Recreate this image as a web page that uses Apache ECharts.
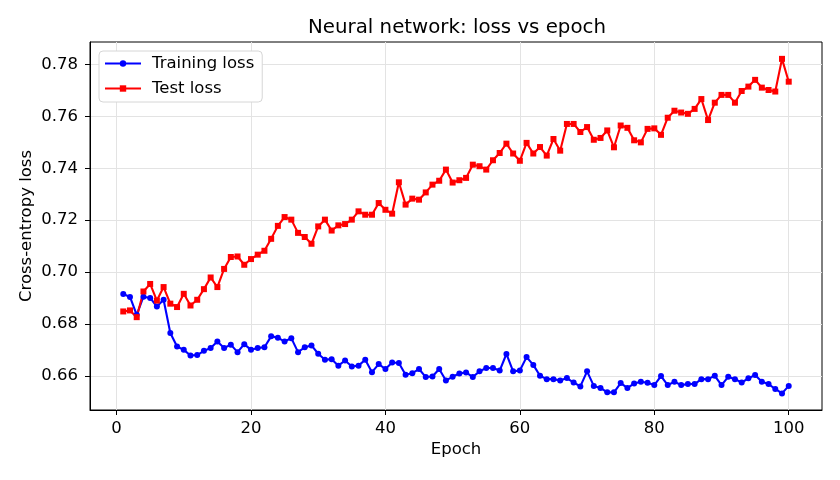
<!DOCTYPE html>
<html>
<head>
<meta charset="utf-8">
<script src="https://cdn.jsdelivr.net/npm/echarts@6/dist/echarts.min.js"></script>
<style>
html,body{margin:0;padding:0;background:#fff;}
#chart{width:840px;height:480px;}
</style>
</head>
<body>
<div id="chart"></div>
<script>
const epochs = Array.from({length: 100}, (_, i) => i + 1);
const trainingLoss = [
  0.6915, 0.6904, 0.6835, 0.6905, 0.6900, 0.6867, 0.6893, 0.6765, 0.6713, 0.6700,
  0.6678, 0.6680, 0.6696, 0.6707, 0.6732, 0.6707, 0.6720, 0.6691, 0.6722, 0.6700,
  0.6707, 0.6710, 0.6752, 0.6747, 0.6732, 0.6745, 0.6691, 0.6710, 0.6717, 0.6685,
  0.6662, 0.6664, 0.6639, 0.6659, 0.6636, 0.6639, 0.6662, 0.6614, 0.6645, 0.6626,
  0.6651, 0.6649, 0.6604, 0.6610, 0.6626, 0.6595, 0.6597, 0.6626, 0.6582, 0.6596,
  0.6609, 0.6613, 0.6595, 0.6617, 0.6630, 0.6630, 0.6620, 0.6684, 0.6617, 0.6620,
  0.6672, 0.6642, 0.6600, 0.6587, 0.6587, 0.6582, 0.6591, 0.6574, 0.6559, 0.6617,
  0.6561, 0.6553, 0.6536, 0.6536, 0.6572, 0.6553, 0.6570, 0.6577, 0.6573, 0.6564,
  0.6599, 0.6564, 0.6577, 0.6564, 0.6568, 0.6568, 0.6587, 0.6587, 0.6600, 0.6564,
  0.6596, 0.6587, 0.6574, 0.6590, 0.6603, 0.6577, 0.6568, 0.6549, 0.6532, 0.6561
];
const testLoss = [
  0.6848, 0.6852, 0.6826, 0.6925, 0.6954, 0.6890, 0.6942, 0.6878, 0.6865, 0.6916,
  0.6871, 0.6893, 0.6934, 0.6979, 0.6942, 0.7012, 0.7058, 0.7060, 0.7028, 0.7050,
  0.7067, 0.7082, 0.7128, 0.7178, 0.7212, 0.7202, 0.7151, 0.7135, 0.7109, 0.7176,
  0.7202, 0.7160, 0.7180, 0.7185, 0.7202, 0.7234, 0.7221, 0.7221, 0.7266, 0.7240,
  0.7225, 0.7346, 0.7260, 0.7283, 0.7279, 0.7307, 0.7337, 0.7352, 0.7395, 0.7345,
  0.7354, 0.7363, 0.7414, 0.7408, 0.7395, 0.7431, 0.7459, 0.7495, 0.7457, 0.7429,
  0.7498, 0.7457, 0.7482, 0.7449, 0.7513, 0.7468, 0.7571, 0.7571, 0.7540, 0.7559,
  0.7510, 0.7517, 0.7546, 0.7481, 0.7565, 0.7556, 0.7508, 0.7500, 0.7552, 0.7554,
  0.7529, 0.7595, 0.7622, 0.7615, 0.7610, 0.7629, 0.7667, 0.7586, 0.7653, 0.7683,
  0.7683, 0.7653, 0.7698, 0.7715, 0.7741, 0.7711, 0.7702, 0.7696, 0.7822, 0.7734
];
const xTicks = [0, 20, 40, 60, 80, 100];
const yTicks = [0.66, 0.68, 0.70, 0.72, 0.74, 0.76, 0.78];

const font = 'DejaVu Sans';
const chart = echarts.init(document.getElementById('chart'), null, {renderer: 'canvas'});
const pair = (ys) => epochs.map((e, i) => [e, ys[i]]);

chart.setOption({
  animation: false,
  backgroundColor: '#fff',
  textStyle: {fontFamily: font},
  title: {
    text: 'Neural network: loss vs epoch',
    left: 452, top: 13, textAlign: 'center',
    textStyle: {fontFamily: font, fontSize: 19.8, fontWeight: 'normal', color: '#000'}
  },
  legend: {
    orient: 'vertical',
    left: 99, top: 51,
    padding: [4, 8, 5, 5],
    itemWidth: 36, itemHeight: 8, itemGap: 8,
    backgroundColor: '#fff',
    borderColor: '#d6d6d6', borderWidth: 1, borderRadius: 4,
    textStyle: {fontFamily: font, fontSize: 16.5, color: '#000', padding: [0, 0, 0, 6]},
    data: ['Training loss', 'Test loss']
  },
  grid: {
    left: 90, right: 18, top: 42, bottom: 70,
    show: true, borderColor: '#000', borderWidth: 1, containLabel: false
  },
  xAxis: {
    type: 'value',
    min: -3.95, max: 104.95,
    name: 'Epoch', nameLocation: 'middle', nameGap: 31, nameMoveOverlap: false,
    nameTextStyle: {fontFamily: font, fontSize: 16.5, color: '#000'},
    axisLine: {show: true, onZero: false, lineStyle: {color: '#000', width: 1}},
    axisTick: {show: true, length: 5, inside: false, customValues: xTicks, lineStyle: {color: '#000'}},
    axisLabel: {customValues: xTicks, margin: 10, fontFamily: font, fontSize: 16.5, color: '#000'},
    splitLine: {show: true, lineStyle: {color: '#e3e3e3', width: 1}}
  },
  yAxis: {
    type: 'value',
    min: 0.6468, max: 0.7887,
    name: 'Cross-entropy loss', nameLocation: 'middle', nameGap: 55, nameRotate: 90, nameMoveOverlap: false,
    nameTextStyle: {fontFamily: font, fontSize: 16.5, color: '#000'},
    axisLine: {show: true, onZero: false, lineStyle: {color: '#000', width: 1}},
    axisTick: {show: true, length: 5, inside: false, customValues: yTicks, lineStyle: {color: '#000'}},
    axisLabel: {customValues: yTicks, margin: 12, fontFamily: font, fontSize: 16.5, color: '#000',
      formatter: (v) => v.toFixed(2)},
    splitLine: {show: true, lineStyle: {color: '#e3e3e3', width: 1}}
  },
  series: [
    {
      name: 'Training loss', type: 'line', data: pair(trainingLoss),
      symbol: 'circle', symbolSize: 6, showSymbol: true,
      lineStyle: {color: '#0000ff', width: 2.1},
      itemStyle: {color: '#0000ff', borderWidth: 0}
    },
    {
      name: 'Test loss', type: 'line', data: pair(testLoss),
      symbol: 'rect', symbolSize: 6, showSymbol: true,
      lineStyle: {color: '#ff0000', width: 2.1},
      itemStyle: {color: '#ff0000', borderWidth: 0}
    }
  ]
});
</script>
</body>
</html>
